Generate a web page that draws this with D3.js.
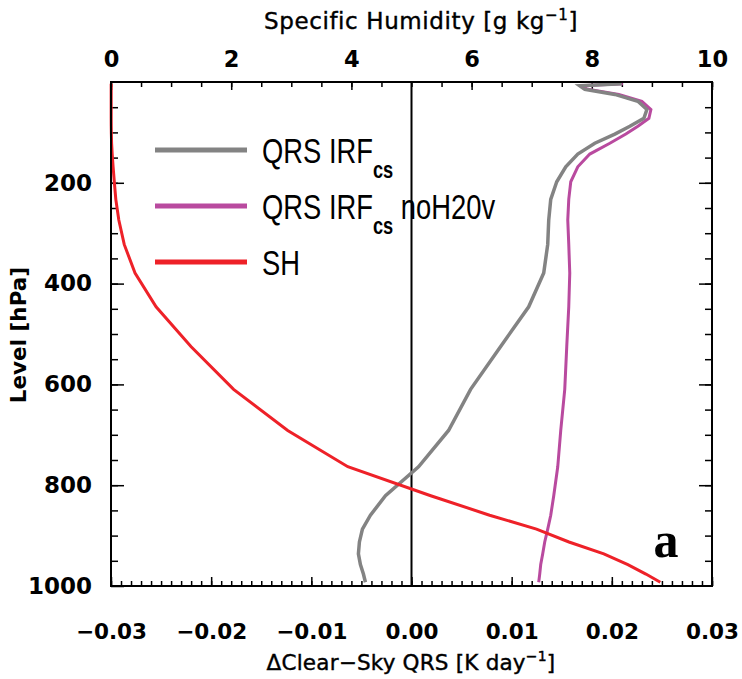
<!DOCTYPE html>
<html>
<head>
<meta charset="utf-8">
<script src="https://cdn.jsdelivr.net/npm/d3@7"></script>
<style>
  body { margin: 0; background: #fff; }
  svg { display: block; }
</style>
</head>
<body>
<div id="container"></div>
<script>
// model levels (hPa)
const levels = [3.64, 7.59, 14.36, 24.61, 38.27, 54.6, 72.01, 87.82, 103.32, 121.55,
  142.99, 168.23, 197.91, 232.83, 273.91, 322.24, 379.1, 445.99, 524.69, 609.78,
  691.39, 763.4, 820.86, 859.53, 887.02, 912.64, 936.2, 957.49, 976.33, 992.56];
// clear-sky QRS change, K/day
const qrsIrf = [0.0210, 0.0168, 0.0173, 0.0203, 0.0226, 0.0235, 0.0232, 0.0218, 0.0203, 0.0183,
  0.0166, 0.0154, 0.0145, 0.0139, 0.0137, 0.0136, 0.0132, 0.0117, 0.0089, 0.0059,
  0.0037, 0.0007, -0.0026, -0.0041, -0.0049, -0.0052, -0.0053, -0.0051, -0.0048, -0.0046];
const qrsNoH2O = [0.0211, 0.0169, 0.0176, 0.0207, 0.0230, 0.0239, 0.0237, 0.0226, 0.0214, 0.0198,
  0.0178, 0.0166, 0.0159, 0.0157, 0.0156, 0.0157, 0.0158, 0.0157, 0.0155, 0.0153,
  0.0149, 0.0146, 0.0142, 0.0139, 0.0136, 0.0133, 0.0131, 0.0129, 0.0128, 0.0127];
// specific humidity, g/kg
const sh = [0.003, 0.003, 0.003, 0.003, 0.003, 0.003, 0.003, 0.004, 0.006, 0.01,
  0.02, 0.035, 0.055, 0.08, 0.13, 0.22, 0.40, 0.75, 1.33, 2.04,
  2.94, 3.94, 5.32, 6.30, 7.08, 7.62, 8.20, 8.60, 8.90, 9.14];

const qrsTicks = [-0.03, -0.02, -0.01, 0.00, 0.01, 0.02, 0.03];
const shTicks = [0, 2, 4, 6, 8, 10];
const levelTicks = [200, 400, 600, 800, 1000];

const w = 742, h = 679;
const pL = 111, pR = 712, pT = 82, pB = 586;

const x = d3.scaleLinear().domain([-0.03, 0.03]).range([pL, pR]);
const x2 = d3.scaleLinear().domain([0, 10]).range([pL, pR]);
const y = d3.scaleLinear().domain([0, 1000]).range([pT, pB]);

const svg = d3.select("#container").append("svg")
  .attr("width", w).attr("height", h);

const tickFont = "'DejaVu Sans', sans-serif";

function styleAxis(size) {
  return g => {
    g.select(".domain").remove();
    g.selectAll("line").attr("stroke", "#000").attr("stroke-width", 1.5);
    g.selectAll("text").attr("font-family", tickFont).attr("font-size", size)
      .attr("font-weight", "bold").attr("fill", "#000");
  };
}

// bottom axis
const minorQ = d3.range(-30, 31).map(d => d / 1000);
svg.append("g").attr("transform", "translate(0," + pB + ")")
  .call(d3.axisBottom(x).tickValues(minorQ).tickSize(-5).tickFormat(""))
  .call(styleAxis(21));
svg.append("g").attr("transform", "translate(0," + pB + ")")
  .call(d3.axisBottom(x).tickValues(qrsTicks).tickSize(-9).tickPadding(38)
    .tickFormat(d => d3.format(".2f")(d).replace("-", "\u2212")))
  .call(styleAxis(21.5));

// top axis
const minorS = d3.range(0, 10.5, 0.5);
svg.append("g").attr("transform", "translate(0," + pT + ")")
  .call(d3.axisTop(x2).tickValues(minorS).tickSize(-5).tickFormat(""))
  .call(styleAxis(22));
svg.append("g").attr("transform", "translate(0," + pT + ")")
  .call(d3.axisTop(x2).tickValues(shTicks).tickSize(-8).tickPadding(15).tickFormat(d3.format("d")))
  .call(styleAxis(22.5));

// left and right axes
const minorL = d3.range(50, 1000, 50);
svg.append("g").attr("transform", "translate(" + pL + ",0)")
  .call(d3.axisLeft(y).tickValues(minorL).tickSize(-7).tickFormat(""))
  .call(styleAxis(22));
svg.append("g").attr("transform", "translate(" + pL + ",0)")
  .call(d3.axisLeft(y).tickValues(levelTicks).tickSize(-13).tickPadding(19).tickFormat(d3.format("d")))
  .call(styleAxis(23));
svg.append("g").attr("transform", "translate(" + pR + ",0)")
  .call(d3.axisRight(y).tickValues(minorL).tickSize(-7).tickFormat(""))
  .call(styleAxis(22));
svg.append("g").attr("transform", "translate(" + pR + ",0)")
  .call(d3.axisRight(y).tickValues(levelTicks.slice(0, 4)).tickSize(-13).tickFormat(""))
  .call(styleAxis(22));

// zero line
svg.append("line")
  .attr("x1", x(0)).attr("x2", x(0)).attr("y1", pT).attr("y2", pB)
  .attr("stroke", "#000").attr("stroke-width", 2);

// curves
const lineQ = vals => d3.line().x((d, i) => x(vals[i])).y(d => y(d))(levels);
const lineS = d3.line().x((d, i) => x2(sh[i])).y(d => y(d))(levels);

svg.append("path").attr("d", lineQ(qrsNoH2O)).attr("fill", "none")
  .attr("stroke", "#b94a9f").attr("stroke-width", 3);
svg.append("path").attr("d", lineQ(qrsIrf)).attr("fill", "none")
  .attr("stroke", "#838383").attr("stroke-width", 3.5);
svg.append("path").attr("d", lineS).attr("fill", "none")
  .attr("stroke", "#ee2128").attr("stroke-width", 3);

// frame
svg.append("rect").attr("x", pL).attr("y", pT)
  .attr("width", pR - pL).attr("height", pB - pT)
  .attr("fill", "none").attr("stroke", "#000").attr("stroke-width", 2);

// legend
const legend = [
  { color: "#838383", y: 150, main: "QRS IRF", sub: "cs", rest: "" },
  { color: "#b94a9f", y: 206, main: "QRS IRF", sub: "cs", rest: " noH20v" },
  { color: "#ee2128", y: 262, main: "SH", sub: "", rest: "" }
];
legend.forEach(l => {
  svg.append("line").attr("x1", 155).attr("x2", 247).attr("y1", l.y).attr("y2", l.y)
    .attr("stroke", l.color).attr("stroke-width", 5);
  const t = svg.append("g").attr("transform", "translate(262," + (l.y + 13) + ") scale(0.76,1)")
    .append("text").attr("font-family", "'Liberation Sans', Arial, sans-serif")
    .attr("font-size", 36).attr("fill", "#000");
  t.append("tspan").text(l.main);
  if (l.sub) {
    t.append("tspan").attr("dy", 15).attr("font-size", 24).attr("font-weight", "bold").text(l.sub);
    if (l.rest) t.append("tspan").attr("dy", -15).text(l.rest);
  }
});

// titles
const titleFont = "'DejaVu Sans', sans-serif";
const t1 = svg.append("text").attr("x", 421).attr("y", 29).attr("text-anchor", "middle")
  .attr("font-family", titleFont).attr("font-size", 23).attr("letter-spacing", 0.6)
  .attr("fill", "#000").attr("stroke", "#000").attr("stroke-width", 0.4);
t1.append("tspan").text("Specific Humidity [g kg");
t1.append("tspan").attr("dy", -9).attr("font-size", 15).text("\u22121");
t1.append("tspan").attr("dy", 9).text("]");

const t2 = svg.append("text").attr("x", 411).attr("y", 670).attr("text-anchor", "middle")
  .attr("font-family", titleFont).attr("font-size", 21.5).attr("letter-spacing", 0.2)
  .attr("fill", "#000").attr("stroke", "#000").attr("stroke-width", 0.4);
t2.append("tspan").text("\u0394Clear\u2212Sky QRS [K day");
t2.append("tspan").attr("dy", -9).attr("font-size", 14).text("\u22121");
t2.append("tspan").attr("dy", 9).text("]");

svg.append("text").attr("transform", "translate(26,335) rotate(-90)")
  .attr("text-anchor", "middle").attr("font-family", titleFont)
  .attr("font-size", 21.5).attr("font-weight", "bold").attr("fill", "#000")
  .text("Level [hPa]");

svg.append("text").attr("x", 666).attr("y", 557).attr("text-anchor", "middle")
  .attr("font-family", "'Liberation Serif', 'Times New Roman', serif")
  .attr("font-size", 50).attr("font-weight", "bold").attr("fill", "#000")
  .text("a");
</script>
</body>
</html>
